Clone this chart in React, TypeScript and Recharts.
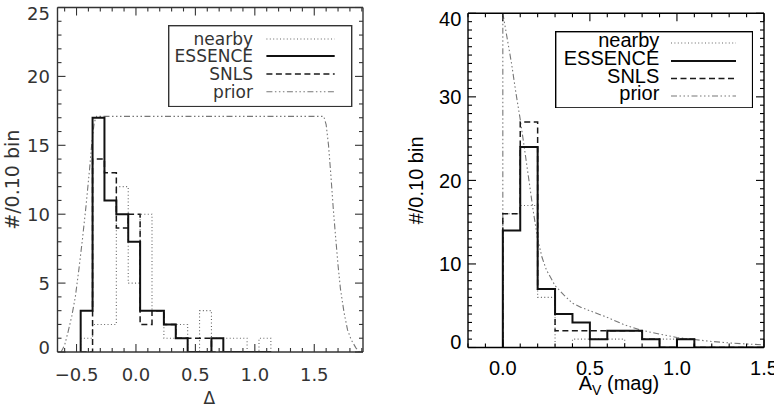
import type { ReactNode } from "react";
import { Legend, Line, LineChart, XAxis, YAxis } from "recharts";

// histogram bins (0.10 wide), left edge of first bin
const binWidth = 0.1;
const deltaBinStart = -0.465;
const avBinStart = 0;

// left panel: Delta
const deltaNearby = [1, 2, 2, 12, 5, 10, 3, 1, 2, 0, 3, 1, 1, 1, 0, 1];
const deltaEssence = [3, 17, 11, 10, 8, 3, 3, 2, 1, 0, 0, 1, 0, 0, 0, 0];
const deltaSnls = [0, 14, 13, 9, 10, 2, 3, 2, 1, 1, 1, 0, 0, 0, 0, 0];
const deltaPriorX = [-0.63, -0.6, -0.57, -0.54, -0.51, -0.48, -0.45, -0.42, -0.39, -0.37, -0.35, -0.33, 1.58, 1.6, 1.62, 1.64, 1.66, 1.68, 1.7, 1.72, 1.75, 1.78, 1.81, 1.85, 1.88];
const deltaPriorY = [0, 0.5, 1.5, 2.6, 4.0, 6.0, 8.2, 10.6, 13.3, 15.3, 16.7, 17.1, 17.1, 16.5, 15.0, 12.8, 10.4, 8.3, 6.3, 4.6, 2.9, 1.6, 0.9, 0.3, 0];

// right panel: A_V
const avNearby = [16, 17, 6, 0, 1, 1, 1, 0, 0, 1, 0, 0, 0, 0, 0];
const avEssence = [14, 24, 7, 4, 3, 1, 2, 2, 1, 0, 1, 0, 0, 0, 0];
const avSnls = [16, 27, 7, 2, 2, 2, 2, 2, 1, 0, 1, 0, 0, 0, 0];
const avPriorX = [-0.2, 0, 0, 0.025, 0.05, 0.075, 0.1, 0.125, 0.15, 0.175, 0.2, 0.225, 0.25, 0.3, 0.35, 0.4, 0.45, 0.5, 0.6, 0.7, 0.8, 0.9, 1.0, 1.1, 1.2, 1.3, 1.4, 1.5];
const avPriorY = [0, 0, 40, 37, 34, 30.5, 27.3, 23.7, 20, 16.3, 13, 10.8, 9.3, 7.4, 6.3, 5.3, 4.8, 4.4, 3.6, 2.7, 2.05, 1.6, 1.2, 0.95, 0.72, 0.55, 0.42, 0.32];

const deltaXTicks = [-0.5, 0, 0.5, 1, 1.5];
const deltaYTicks = [0, 5, 10, 15, 20, 25];
const avXTicks = [0, 0.5, 1, 1.5];
const avYTicks = [0, 10, 20, 30, 40];
const legendNames = ["nearby", "ESSENCE", "SNLS", "prior"];

type Pt = { x: number; y: number };

const lineStyles: Record<string, { stroke: string; width: number; dash?: string }> = {
  nearby: { stroke: "#666", width: 1.1, dash: "1 2.4" },
  ESSENCE: { stroke: "#111", width: 2 },
  SNLS: { stroke: "#1a1a1a", width: 1.5, dash: "6 3.5" },
  prior: { stroke: "#777", width: 1.1, dash: "6 2.5 1.5 2.5 1.5 2.5 1.5 2.5" },
};

function steps(start: number, counts: number[]): Pt[] {
  const pts: Pt[] = [{ x: start, y: 0 }];
  counts.forEach((c, i) => pts.push({ x: start + i * binWidth, y: c }));
  pts.push({ x: start + counts.length * binWidth, y: 0 });
  return pts;
}

const zip = (xs: number[], ys: number[]): Pt[] => xs.map((x, i) => ({ x, y: ys[i] }));

function range(a: number, b: number, step: number) {
  const out: number[] = [];
  for (let v = a; v <= b + 1e-9; v += step) out.push(Math.round(v * 1000) / 1000);
  return out;
}

const merge = (major: number[], minor: number[]) =>
  Array.from(new Set([...major, ...minor].map((v) => Math.round(v * 1000) / 1000))).sort((a, b) => a - b);

type Side = "bottom" | "top" | "left" | "right";

type TickCfg = {
  majors: number[];
  ink: string;
  font: string;
  size: number;
  format: (v: number) => string;
  labelOffset: number; // distance from the axis line to the label
  clamp?: [number, number]; // IDL keeps the end labels inside the frame
};

function makeTick(side: Side, c: TickCfg, labels: boolean) {
  return (props: any) => {
    const { x, y, payload } = props;
    const v = payload.value as number;
    const major = c.majors.some((m) => Math.abs(m - v) < 1e-6);
    const len = major ? 8 : 4;
    let line: [number, number, number, number];
    if (side === "bottom") line = [x, y, x, y - len];
    else if (side === "top") line = [x, y, x, y + len];
    else if (side === "left") line = [x, y, x + len, y];
    else line = [x, y, x - len, y];
    const ly = c.clamp ? Math.min(Math.max(y, c.clamp[0]), c.clamp[1]) : y;
    return (
      <g>
        <line x1={line[0]} y1={line[1]} x2={line[2]} y2={line[3]} stroke={c.ink} strokeWidth={1.1} />
        {labels && major && side === "bottom" && (
          <text x={x} y={y + c.labelOffset} textAnchor="middle" fontFamily={c.font} fontSize={c.size} fill={c.ink}>
            {c.format(v)}
          </text>
        )}
        {labels && major && side === "left" && (
          <text x={x - c.labelOffset} y={ly} dy="0.36em" textAnchor="end" fontFamily={c.font} fontSize={c.size} fill={c.ink}>
            {String(v)}
          </text>
        )}
      </g>
    );
  };
}

type LegendBox = {
  left: number; top: number; width: number; height: number;
  textRight: number; lineX: [number, number]; rowText: number[]; rowLine: number[];
};

type PanelProps = {
  width: number;
  margin: { top: number; right: number; bottom: number; left: number };
  xDomain: [number, number];
  yDomain: [number, number];
  xTicks: number[]; xMinor: number[];
  yTicks: number[]; yMinor: number[];
  xFormat: (v: number) => string;
  xLabelOffset: number; yLabelOffset: number; yClamp: [number, number];
  font: string; tickSize: number; legendSize: number; ink: string;
  series: { name: string; data: Pt[]; step: boolean }[];
  legend: LegendBox;
  xTitle: (p: any) => ReactNode;
  yTitle: (p: any) => ReactNode;
};

function Panel(p: PanelProps) {
  const L = p.legend;
  const frame = { stroke: p.ink, strokeWidth: 1.4 };
  const xAll = merge(p.xTicks, p.xMinor);
  const yAll = merge(p.yTicks, p.yMinor);
  const xCfg: TickCfg = { majors: p.xTicks, ink: p.ink, font: p.font, size: p.tickSize, format: p.xFormat, labelOffset: p.xLabelOffset };
  const yCfg: TickCfg = { majors: p.yTicks, ink: p.ink, font: p.font, size: p.tickSize, format: String, labelOffset: p.yLabelOffset, clamp: p.yClamp };

  const legendContent = (props: any) => {
    const items = [...(props.payload ?? [])].sort(
      (a: any, b: any) => legendNames.indexOf(a.value) - legendNames.indexOf(b.value)
    );
    return (
      <svg width={L.width} height={L.height} style={{ display: "block" }}>
        <rect x={0.7} y={0.7} width={L.width - 1.4} height={L.height - 1.4} fill="#fff" stroke={p.ink} strokeWidth={1.4} />
        {items.map((it: any, i: number) => {
          const s = lineStyles[it.value];
          return (
            <g key={it.value}>
              <text x={L.textRight} y={L.rowText[i]} textAnchor="end" fontFamily={p.font} fontSize={p.legendSize} fill={p.ink}>
                {it.value}
              </text>
              <line x1={L.lineX[0]} x2={L.lineX[1]} y1={L.rowLine[i]} y2={L.rowLine[i]} stroke={s.stroke} strokeWidth={s.width} strokeDasharray={s.dash} />
            </g>
          );
        })}
      </svg>
    );
  };

  return (
    <LineChart width={p.width} height={406} margin={p.margin}>
      <XAxis xAxisId="b" type="number" dataKey="x" allowDataOverflow interval={0} domain={p.xDomain} ticks={xAll}
        height={1} tickSize={0} tickMargin={0} tickLine={false} axisLine={frame} tick={makeTick("bottom", xCfg, true)} label={p.xTitle} />
      <XAxis xAxisId="t" orientation="top" type="number" dataKey="x" allowDataOverflow interval={0} domain={p.xDomain} ticks={xAll}
        height={1} tickSize={0} tickMargin={0} tickLine={false} axisLine={frame} tick={makeTick("top", xCfg, false)} />
      <YAxis yAxisId="l" type="number" allowDataOverflow interval={0} domain={p.yDomain} ticks={yAll}
        width={1} tickSize={0} tickMargin={0} tickLine={false} axisLine={frame} tick={makeTick("left", yCfg, true)} label={p.yTitle} />
      <YAxis yAxisId="r" orientation="right" type="number" allowDataOverflow interval={0} domain={p.yDomain} ticks={yAll}
        width={1} tickSize={0} tickMargin={0} tickLine={false} axisLine={frame} tick={makeTick("right", yCfg, false)} />
      <Legend layout="vertical" align="center" verticalAlign="middle" content={legendContent}
        wrapperStyle={{ left: L.left, top: L.top, width: L.width, height: L.height, lineHeight: 0 }} />
      {p.series.map((s) => {
        const st = lineStyles[s.name];
        return (
          <Line key={s.name} name={s.name} xAxisId="b" yAxisId="l" data={s.data} dataKey="y"
            type={s.step ? "stepAfter" : "linear"} stroke={st.stroke} strokeWidth={st.width}
            strokeDasharray={st.dash} dot={false} activeDot={false} isAnimationActive={false} />
        );
      })}
    </LineChart>
  );
}

const leftFont = "'DejaVu Sans', sans-serif";
const rightFont = "'Liberation Sans', Arial, sans-serif";

const deltaFormat = (v: number) => (v < 0 ? "\u2212" + Math.abs(v).toFixed(1) : v.toFixed(1));

export default function App() {
  return (
    <div style={{ position: "absolute", left: 0, top: 0, width: 774, height: 406, background: "#fff", overflow: "hidden" }}>
      <div style={{ position: "absolute", left: 0, top: 0 }}>
        <Panel
          width={390}
          margin={{ top: 6.5, right: 26, bottom: 53, left: 56.5 }}
          xDomain={[-0.66, 1.91]}
          yDomain={[0, 25]}
          xTicks={deltaXTicks}
          xMinor={range(-0.6, 1.9, 0.1)}
          yTicks={deltaYTicks}
          yMinor={range(0, 25, 1)}
          xFormat={deltaFormat}
          xLabelOffset={29}
          yLabelOffset={7.5}
          yClamp={[14, 348]}
          font={leftFont}
          tickSize={18}
          legendSize={17}
          ink="#333"
          series={[
            { name: "prior", data: zip(deltaPriorX, deltaPriorY), step: false },
            { name: "nearby", data: steps(deltaBinStart, deltaNearby), step: true },
            { name: "SNLS", data: steps(deltaBinStart, deltaSnls), step: true },
            { name: "ESSENCE", data: steps(deltaBinStart, deltaEssence), step: true },
          ]}
          legend={{ left: 168.3, top: 25, width: 184.4, height: 82.3, textRight: 85, lineX: [98.4, 166.7], rowText: [19.5, 37.3, 55.1, 72.9], rowLine: [14, 31, 49, 66.7] }}
          xTitle={({ viewBox }: any) => (
            <text x={viewBox.x + viewBox.width / 2 - 1} y={viewBox.y + 51.5} textAnchor="middle" fontFamily={leftFont} fontSize={17} fill="#333">
              Δ
            </text>
          )}
          yTitle={({ viewBox }: any) => {
            const cx = viewBox.x + viewBox.width - 38.5;
            const cy = viewBox.y + viewBox.height / 2;
            return (
              <text x={cx} y={cy} transform={`rotate(-90 ${cx} ${cy})`} textAnchor="middle" fontFamily={leftFont} fontSize={19} fill="#333">
                #/0.10 bin
              </text>
            );
          }}
        />
      </div>
      <div style={{ position: "absolute", left: 390, top: 0 }}>
        <Panel
          width={384}
          margin={{ top: 12.3, right: 9, bottom: 57.5, left: 77 }}
          xDomain={[-0.2, 1.5]}
          yDomain={[0, 40]}
          xTicks={avXTicks}
          xMinor={range(-0.2, 1.5, 0.1)}
          yTicks={avYTicks}
          yMinor={range(0, 40, 1)}
          xFormat={(v: number) => v.toFixed(1)}
          xLabelOffset={27.5}
          yLabelOffset={6.7}
          yClamp={[18.3, 341.7]}
          font={rightFont}
          tickSize={20}
          legendSize={20}
          ink="#000"
          series={[
            { name: "prior", data: zip(avPriorX, avPriorY), step: false },
            { name: "nearby", data: steps(avBinStart, avNearby), step: true },
            { name: "SNLS", data: steps(avBinStart, avSnls), step: true },
            { name: "ESSENCE", data: steps(avBinStart, avEssence), step: true },
          ]}
          legend={{ left: 164.7, top: 30.7, width: 198.3, height: 77.6, textRight: 104.3, lineX: [116, 181], rowText: [16, 34.3, 52, 69.3], rowLine: [12, 30, 47.6, 65] }}
          xTitle={({ viewBox }: any) => (
            <text x={viewBox.x + viewBox.width / 2 + 3} y={viewBox.y + 42.5} textAnchor="middle" fontFamily={rightFont} fontSize={20} fill="#000">
              A<tspan fontSize={14} dy={5}>V</tspan>
              <tspan dy={-5}> (mag)</tspan>
            </text>
          )}
          yTitle={({ viewBox }: any) => {
            const cx = viewBox.x + viewBox.width - 44.5;
            const cy = viewBox.y + viewBox.height / 2;
            return (
              <text x={cx} y={cy} transform={`rotate(-90 ${cx} ${cy})`} textAnchor="middle" fontFamily={rightFont} fontSize={20} fill="#000">
                #/0.10 bin
              </text>
            );
          }}
        />
      </div>
    </div>
  );
}
